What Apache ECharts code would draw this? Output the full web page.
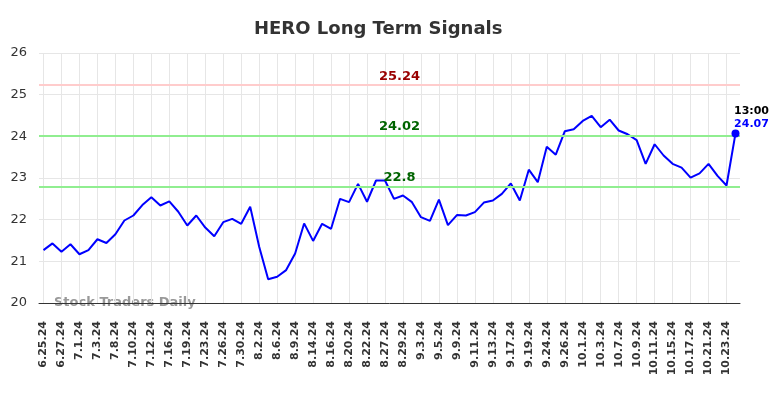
<!DOCTYPE html>
<html>
<head>
<meta charset="utf-8">
<script src="https://cdn.jsdelivr.net/npm/echarts@6/dist/echarts.min.js"></script>
<style>html,body{margin:0;padding:0;background:#fff;}#c{width:784px;height:398px;}</style>
</head>
<body>
<div id="c"></div>
<script>
const categories = ["6.25.24","6.26.24","6.27.24","6.28.24","7.1.24","7.2.24","7.3.24","7.5.24","7.8.24","7.9.24",
"7.10.24","7.11.24","7.12.24","7.15.24","7.16.24","7.17.24","7.19.24","7.22.24","7.23.24","7.24.24",
"7.26.24","7.29.24","7.30.24","7.31.24","8.2.24","8.5.24","8.6.24","8.7.24","8.9.24","8.12.24",
"8.14.24","8.15.24","8.16.24","8.19.24","8.20.24","8.21.24","8.22.24","8.23.24","8.27.24","8.28.24",
"8.29.24","8.30.24","9.3.24","9.4.24","9.5.24","9.6.24","9.9.24","9.10.24","9.11.24","9.12.24",
"9.13.24","9.16.24","9.17.24","9.18.24","9.19.24","9.20.24","9.24.24","9.25.24","9.26.24","9.27.24",
"10.1.24","10.2.24","10.3.24","10.4.24","10.7.24","10.8.24","10.9.24","10.10.24","10.11.24","10.14.24",
"10.15.24","10.16.24","10.17.24","10.18.24","10.21.24","10.22.24","10.23.24","10.24.24"];
const prices = [21.27,21.43,21.23,21.41,21.17,21.27,21.53,21.44,21.65,21.98,
22.10,22.35,22.54,22.34,22.44,22.19,21.86,22.10,21.81,21.60,
21.94,22.02,21.90,22.31,21.35,20.57,20.63,20.79,21.19,21.91,
21.49,21.90,21.78,22.50,22.42,22.86,22.43,22.94,22.94,22.50,
22.58,22.42,22.06,21.97,22.48,21.87,22.11,22.10,22.18,22.41,
22.46,22.62,22.87,22.46,23.20,22.90,23.75,23.56,24.12,24.17,
24.37,24.49,24.22,24.40,24.14,24.05,23.91,23.34,23.81,23.54,
23.34,23.25,23.01,23.11,23.34,23.05,22.82,24.07];
const resistance = 25.24;
const upperSupport = 24.02;
const lowerSupport = 22.8;
const lastTime = "13:00";
const yTicks = [20, 26, 1];

const chart = echarts.init(document.getElementById('c'));
const lastIdx = prices.length - 1;
const lvlLabel = (txt, col) => ({ formatter: txt, position: 'middle', color: col, fontWeight: 'bold', fontSize: 13, fontFamily: 'DejaVu Sans', distance: 2, offset: [10, 0] });
chart.setOption({
  animation: false,
  title: {
    text: 'HERO Long Term Signals', left: 249, top: 15,
    textStyle: { fontFamily: 'DejaVu Sans', fontSize: 18, fontWeight: 'bold', color: '#333' }
  },
  grid: { left: 39, right: 44, top: 53, bottom: 95 },
  graphic: [{
    type: 'text', left: 54, top: 296,
    style: { text: 'Stock Traders Daily', fill: '#999', font: 'bold 13px "DejaVu Sans"' }
  }],
  xAxis: {
    type: 'category', data: categories, boundaryGap: true,
    axisLine: { lineStyle: { color: '#333' } },
    axisTick: { show: false },
    axisLabel: { interval: 1, rotate: 90, margin: 18, color: '#333', fontSize: 11, fontWeight: 'bold', fontFamily: 'DejaVu Sans' },
    splitLine: { show: true, interval: 1, alignWithLabel: true, lineStyle: { color: '#e6e6e6' } }
  },
  yAxis: {
    type: 'value', min: yTicks[0], max: yTicks[1], interval: yTicks[2],
    axisLine: { show: false }, axisTick: { show: false },
    axisLabel: { color: '#333', fontSize: 13, fontFamily: 'DejaVu Sans', margin: 12 },
    splitLine: { lineStyle: { color: '#e6e6e6' } }
  },
  series: [{
    type: 'line', data: prices, symbol: 'none', smooth: false,
    lineStyle: { color: '#0000ff', width: 2 },
    markLine: {
      silent: true, symbol: 'none',
      data: [
        { yAxis: resistance, lineStyle: { color: '#ffcccc', width: 2, type: 'solid' }, label: lvlLabel(String(resistance), '#990000') },
        { yAxis: upperSupport, lineStyle: { color: '#90ee90', width: 2, type: 'solid' }, label: lvlLabel(String(upperSupport), '#006400') },
        { yAxis: lowerSupport, lineStyle: { color: '#90ee90', width: 2, type: 'solid' }, label: lvlLabel(String(lowerSupport), '#006400') }
      ]
    },
    markPoint: {
      symbol: 'circle', symbolSize: 8,
      itemStyle: { color: '#0000ff' },
      data: [{ coord: [lastIdx, prices[lastIdx]], value: prices[lastIdx] }],
      label: {
        show: true, position: 'top', distance: 1, offset: [16, 2],
        formatter: lastTime + '\n{v|' + prices[lastIdx] + '}',
        color: '#000', fontWeight: 'bold', fontSize: 11, fontFamily: 'DejaVu Sans', lineHeight: 13,
        rich: { v: { color: '#0000ff', fontWeight: 'bold', fontSize: 11, fontFamily: 'DejaVu Sans', lineHeight: 13 } }
      }
    }
  }]
});
</script>
</body>
</html>
